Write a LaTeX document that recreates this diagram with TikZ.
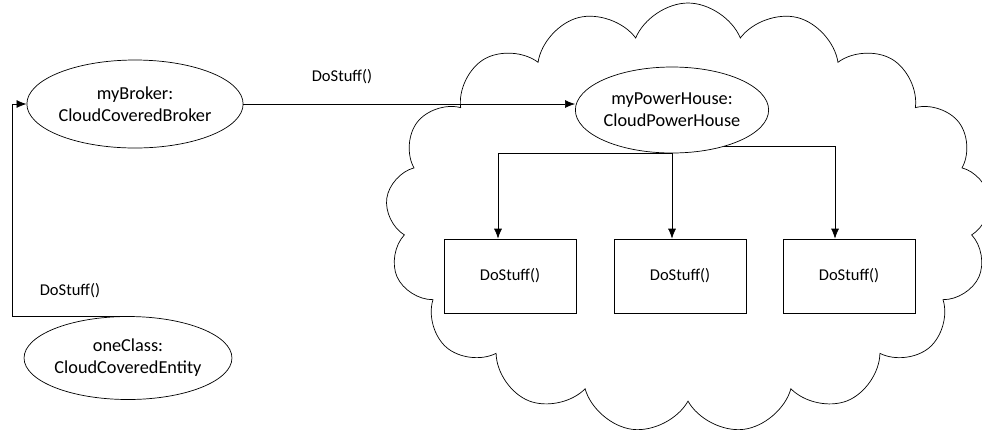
\documentclass[tikz,border=0pt]{standalone}
\usepackage{fontspec}
\setmainfont{Carlito}
\usetikzlibrary{arrows.meta,shapes.geometric,shapes.symbols}

\begin{document}
\begin{tikzpicture}[every node/.style={font=\fontsize{10.4}{12.5}\selectfont}, >={Latex[length=2mm,width=1.6mm]},
	obj/.style={draw, ellipse, inner sep=0pt, align=center},
	method/.style={draw, minimum width=2.64cm, minimum height=1.48cm, font=\fontsize{9.4}{11}\selectfont},
	msg/.style={font=\fontsize{9.4}{11}\selectfont}]
	\useasboundingbox (0,0) rectangle (19.64,-8.68);
	\node[draw, cloud, cloud puffs=17, cloud puff arc=135, cloud ignores aspect, minimum width=12.1cm, minimum height=8.6cm] (cloud) at (13.76,-4.36) {};
	\node[obj, minimum width=3.68cm, minimum height=1.76cm] (broker) at (2.70,-2.08) {myBroker:\\CloudCoveredBroker};
	\node[obj, minimum width=3.40cm, minimum height=1.66cm] (entity) at (2.56,-7.16) {oneClass:\\CloudCoveredEntity};
	\node[obj, minimum width=3.42cm, minimum height=1.72cm] (house) at (13.44,-2.20) {myPowerHouse:\\CloudPowerHouse};
	\node[method] (stuffa) at (10.20,-5.52) {DoStuff()};
	\node[method] (stuffb) at (13.60,-5.52) {DoStuff()};
	\node[method] (stuffc) at (16.98,-5.52) {DoStuff()};
	\node[msg] (calltop) at (6.84,-1.54) {DoStuff()};
	\node[msg] (callleft) at (1.40,-5.82) {DoStuff()};
	\coordinate (turn) at (0.24,-2.08);
	\draw[->] (entity.north) -| (turn) -- (broker.west);
	\draw[->] (broker.east) -- (house.west |- broker.east);
	\draw[->] (house.south) -| ([xshift=-0.24cm]stuffa.north);
	\draw[->] (house.south) -- (house.south |- stuffb.north);
	\draw[->] (house.-35) -| ([xshift=-0.28cm]stuffc.north);
\end{tikzpicture}
\end{document}
